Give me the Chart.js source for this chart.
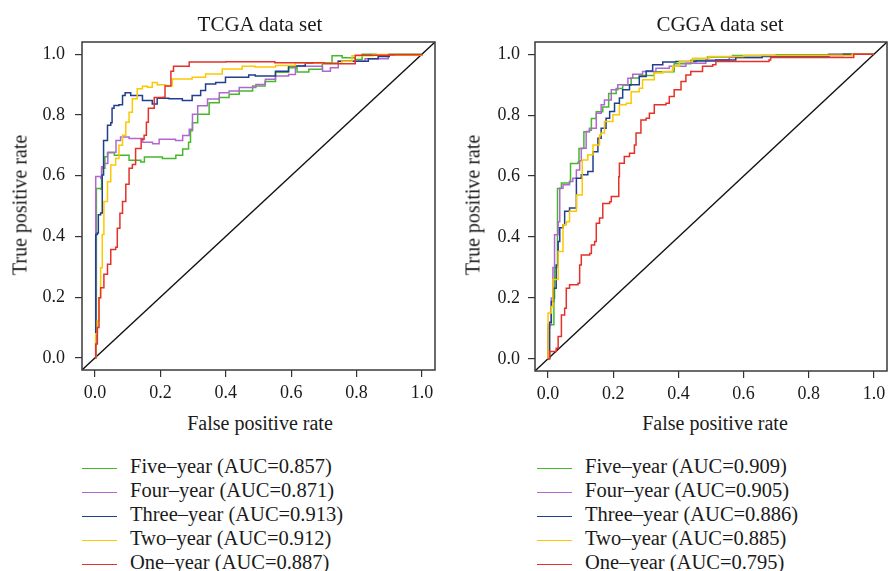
<!DOCTYPE html>
<html>
<head>
<meta charset="utf-8">
<script src="https://cdn.jsdelivr.net/npm/chart.js@4.4.0/dist/chart.umd.min.js"></script>
<style>
  body { margin: 0; background: #fff; }
  #page { position: relative; width: 888px; height: 571px; overflow: hidden; font-family: "Liberation Serif", serif; color: #1a1a1a; }
  .panel { position: absolute; top: 0; }
  .txt { position: absolute; white-space: nowrap; transform: translate(-50%, -50%); font-size: 20px; }
  .title { font-size: 21px; }
  .ylab { transform: translate(-50%, -50%) rotate(-90deg); }
  .legend { position: absolute; top: 0; }
  .row { position: absolute; left: 0; white-space: nowrap; font-size: 20.5px; line-height: 24px; }
  .row i { display: inline-block; width: 35px; height: 0; border-top: 1.6px solid; vertical-align: middle; margin-right: 13px; }
</style>
</head>
<body>
<div id="page">
  <div class="panel" style="left:0"><canvas id="tcga" width="444" height="400"></canvas></div>
  <div class="panel" style="left:444px"><canvas id="cgga" width="444" height="400"></canvas></div>

  <div class="txt title" style="left:260px; top:24px">TCGA data set</div>
  <div class="txt title" style="left:720px; top:24px">CGGA data set</div>
  <div class="txt" style="left:260px; top:423px">False positive rate</div>
  <div class="txt" style="left:715px; top:423px">False positive rate</div>
  <div class="txt ylab" style="left:20px; top:205px">True positive rate</div>
  <div class="txt ylab" style="left:473px; top:205px">True positive rate</div>

  <div class="legend" id="legTcga" style="left:82px"></div>
  <div class="legend" id="legCgga" style="left:537px"></div>
</div>

<script>
// axis values
const tickValues = [0, 0.2, 0.4, 0.6, 0.8, 1.0];
const axisRange = [-0.04, 1.04];

const seriesNames = ['Five–year', 'Four–year', 'Three–year', 'Two–year', 'One–year'];
const seriesColors = ['#46b82b', '#b068d0', '#223f8e', '#fcc800', '#e4322a'];
const tcgaAuc = ['0.857', '0.871', '0.913', '0.912', '0.887'];
const cggaAuc = ['0.909', '0.905', '0.886', '0.885', '0.795'];

// TCGA curves [fpr, tpr]
const tcgaFive = [[0,0],[0.002,0.068],[0.004,0.558],[0.017,0.556],[0.02,0.624],[0.03,0.662],[0.038,0.675],[0.059,0.667],
  [0.104,0.651],[0.14,0.645],[0.151,0.661],[0.206,0.656],[0.232,0.656],[0.247,0.667],[0.268,0.688],[0.286,0.71],
  [0.292,0.748],[0.298,0.774],[0.314,0.802],[0.349,0.84],[0.38,0.857],[0.41,0.868],[0.441,0.879],[0.482,0.895],
  [0.52,0.91],[0.552,0.94],[0.592,0.955],[0.618,0.941],[0.654,0.95],[0.695,0.972],[0.725,0.995],[0.756,0.988],
  [0.796,0.982],[0.817,1.0],[0.86,0.998],[0.9,1.0],[1,1]];
const tcgaFour = [[0,0],[0.002,0.079],[0.002,0.597],[0.017,0.591],[0.02,0.629],[0.027,0.64],[0.039,0.677],[0.064,0.716],
  [0.078,0.727],[0.104,0.722],[0.146,0.71],[0.176,0.705],[0.196,0.72],[0.246,0.716],[0.268,0.732],[0.288,0.753],
  [0.298,0.802],[0.314,0.83],[0.344,0.852],[0.38,0.873],[0.41,0.879],[0.441,0.89],[0.492,0.9],[0.521,0.917],
  [0.552,0.928],[0.592,0.933],[0.613,0.961],[0.643,0.96],[0.696,0.944],[0.72,0.955],[0.744,0.977],[0.826,0.985],
  [0.897,0.999],[1,1]];
const tcgaThree = [[0,0],[0.002,0.166],[0.002,0.406],[0.007,0.411],[0.01,0.471],[0.017,0.477],[0.022,0.602],
  [0.026,0.716],[0.035,0.716],[0.038,0.766],[0.048,0.774],[0.052,0.822],[0.058,0.831],[0.073,0.833],[0.084,0.864],
  [0.092,0.873],[0.109,0.864],[0.145,0.847],[0.175,0.836],[0.19,0.855],[0.226,0.853],[0.267,0.847],[0.297,0.864],
  [0.323,0.88],[0.338,0.902],[0.369,0.907],[0.399,0.924],[0.43,0.924],[0.47,0.931],[0.49,0.928],[0.552,0.944],
  [0.592,0.961],[0.643,0.97],[0.744,0.977],[0.836,0.985],[0.866,0.992],[0.9,0.998],[1,1]];
const tcgaTwo = [[0,0],[0.002,0.079],[0.007,0.122],[0.012,0.198],[0.017,0.297],[0.022,0.406],[0.027,0.515],
  [0.038,0.58],[0.048,0.635],[0.063,0.656],[0.073,0.7],[0.084,0.733],[0.094,0.776],[0.104,0.809],[0.114,0.853],
  [0.129,0.886],[0.145,0.894],[0.16,0.891],[0.175,0.907],[0.19,0.899],[0.216,0.896],[0.236,0.918],[0.267,0.918],
  [0.297,0.924],[0.338,0.935],[0.389,0.951],[0.45,0.96],[0.49,0.958],[0.552,0.963],[0.613,0.972],[0.67,0.97],
  [0.755,0.977],[0.786,0.995],[0.85,0.999],[0.92,0.996],[1,1]];
const tcgaOne = [[0,0],[0.002,0.046],[0.007,0.1],[0.012,0.198],[0.017,0.231],[0.027,0.275],[0.038,0.308],
  [0.048,0.357],[0.063,0.364],[0.068,0.427],[0.076,0.476],[0.084,0.515],[0.094,0.572],[0.104,0.624],[0.114,0.637],
  [0.124,0.689],[0.141,0.72],[0.15,0.733],[0.157,0.776],[0.163,0.822],[0.181,0.857],[0.208,0.858],[0.214,0.895],
  [0.232,0.944],[0.24,0.96],[0.288,0.974],[0.4,0.975],[0.55,0.972],[0.7,0.968],[0.796,0.966],[0.796,0.996],
  [0.9,0.998],[1,1]];

// CGGA curves [fpr, tpr]
const cggaFive = [[0,0],[0,0.112],[0.008,0.112],[0.018,0.199],[0.02,0.3],[0.029,0.482],[0.029,0.559],[0.041,0.577],
  [0.066,0.582],[0.069,0.641],[0.092,0.645],[0.095,0.69],[0.11,0.745],[0.127,0.75],[0.133,0.789],[0.148,0.811],
  [0.168,0.827],[0.186,0.871],[0.209,0.887],[0.229,0.898],[0.255,0.922],[0.28,0.93],[0.326,0.942],[0.387,0.969],
  [0.438,0.98],[0.489,0.991],[0.566,0.996],[0.7,0.998],[0.86,1],[1,1]];
const cggaFour = [[0,0],[0,0.1],[0.005,0.112],[0.01,0.2],[0.015,0.3],[0.02,0.407],[0.031,0.45],[0.036,0.56],
  [0.046,0.571],[0.066,0.582],[0.076,0.593],[0.087,0.62],[0.097,0.65],[0.102,0.691],[0.117,0.746],[0.127,0.757],
  [0.148,0.806],[0.163,0.834],[0.173,0.85],[0.194,0.883],[0.214,0.9],[0.245,0.921],[0.26,0.934],[0.29,0.943],
  [0.331,0.954],[0.372,0.96],[0.423,0.97],[0.484,0.981],[0.556,0.989],[0.657,0.996],[0.862,1],[1,1]];
const cggaThree = [[0,0],[0.005,0.12],[0.01,0.15],[0.01,0.188],[0.017,0.232],[0.025,0.308],[0.031,0.385],
  [0.036,0.43],[0.046,0.44],[0.051,0.484],[0.066,0.495],[0.082,0.495],[0.087,0.593],[0.102,0.604],[0.122,0.615],
  [0.138,0.68],[0.153,0.724],[0.163,0.757],[0.178,0.79],[0.189,0.812],[0.204,0.839],[0.219,0.856],[0.229,0.883],
  [0.25,0.9],[0.28,0.927],[0.301,0.945],[0.321,0.965],[0.352,0.974],[0.392,0.976],[0.454,0.978],[0.515,0.981],
  [0.576,0.989],[0.657,0.992],[0.862,0.996],[0.906,1],[1,1]];
const cggaTwo = [[0,0],[0,0.15],[0.01,0.172],[0.015,0.26],[0.025,0.26],[0.031,0.352],[0.041,0.352],[0.046,0.44],
  [0.056,0.45],[0.066,0.484],[0.087,0.538],[0.1,0.538],[0.105,0.653],[0.122,0.67],[0.138,0.702],[0.158,0.735],
  [0.163,0.741],[0.173,0.779],[0.199,0.801],[0.219,0.834],[0.24,0.839],[0.255,0.877],[0.28,0.888],[0.29,0.916],
  [0.326,0.938],[0.352,0.943],[0.382,0.96],[0.403,0.976],[0.443,0.987],[0.494,0.992],[0.6,0.996],[0.8,0.996],
  [0.933,1],[1,1]];
const cggaOne = [[0,0],[0.005,0.024],[0.02,0.024],[0.025,0.035],[0.031,0.073],[0.041,0.073],[0.041,0.144],
  [0.051,0.166],[0.056,0.232],[0.066,0.243],[0.092,0.248],[0.097,0.308],[0.102,0.341],[0.128,0.346],[0.133,0.374],
  [0.143,0.385],[0.148,0.445],[0.158,0.462],[0.168,0.51],[0.189,0.516],[0.194,0.533],[0.214,0.533],[0.217,0.598],
  [0.219,0.642],[0.234,0.664],[0.25,0.675],[0.265,0.702],[0.27,0.741],[0.285,0.784],[0.301,0.79],[0.311,0.806],
  [0.326,0.834],[0.362,0.839],[0.372,0.861],[0.387,0.883],[0.408,0.91],[0.423,0.932],[0.438,0.943],[0.474,0.96],
  [0.505,0.965],[0.515,0.976],[0.678,0.981],[0.683,0.989],[0.933,0.989],[0.938,1],[1,1]];

const boxPlugin = {
  id: 'box',
  afterDraw(chart) {
    const { ctx, chartArea: a } = chart;
    ctx.save();
    ctx.strokeStyle = '#3a3a3a';
    ctx.lineWidth = 1.5;
    ctx.strokeRect(a.left, a.top, a.right - a.left, a.bottom - a.top);
    ctx.restore();
  }
};

const tickFont = { family: 'Liberation Serif', size: 18 };

function makeChart(id, series, cfg) {
  const datasets = series.map((s, i) => ({
    data: s.map(([x, y]) => ({ x, y })),
    borderColor: seriesColors[i],
    borderWidth: 1.5,
    pointRadius: 0,
    showLine: true,
    stepped: 'before',
    order: series.length - 1 - i,
  }));
  // chance line y = x
  datasets.push({
    data: axisRange.map(v => ({ x: v, y: v })),
    borderColor: '#111',
    borderWidth: 1.3,
    pointRadius: 0,
    showLine: true,
    order: 10,
  });

  new Chart(document.getElementById(id), {
    type: 'scatter',
    data: { datasets },
    plugins: [boxPlugin],
    options: {
      responsive: false,
      animation: false,
      devicePixelRatio: 1,
      layout: { padding: { top: 42, right: cfg.padRight, left: 0, bottom: 0 } },
      plugins: { legend: { display: false }, tooltip: { enabled: false } },
      scales: {
        x: {
          type: 'linear', min: axisRange[0], max: axisRange[1],
          afterBuildTicks: s => { s.ticks = tickValues.map(v => ({ value: v })); },
          afterFit: s => { s.height = cfg.xHeight; s.paddingLeft = 0; s.paddingRight = 0; },
          ticks: { callback: v => v.toFixed(1), font: tickFont, color: '#1a1a1a', padding: 5, maxRotation: 0, autoSkip: false },
          grid: { drawOnChartArea: false, tickLength: 7, color: '#333', lineWidth: 1.2 },
          border: { display: false },
        },
        y: {
          type: 'linear', min: axisRange[0], max: axisRange[1],
          afterBuildTicks: s => { s.ticks = tickValues.map(v => ({ value: v })); },
          afterFit: s => { s.width = cfg.yWidth; s.paddingTop = 0; s.paddingBottom = 0; },
          ticks: { callback: v => v.toFixed(1), font: tickFont, color: '#1a1a1a', padding: cfg.yPad, autoSkip: false },
          grid: { drawOnChartArea: false, tickLength: 7, color: '#333', lineWidth: 1.2 },
          border: { display: false },
        },
      },
    },
  });
}

function makeLegend(id, auc) {
  const el = document.getElementById(id);
  seriesNames.forEach((name, i) => {
    const row = document.createElement('div');
    row.className = 'row';
    row.style.top = (454 + i * 24) + 'px';
    row.innerHTML = '<i style="border-color:' + seriesColors[i] + '"></i>' + name + ' (AUC=' + auc[i] + ')';
    el.appendChild(row);
  });
}

makeChart('tcga', [tcgaFive, tcgaFour, tcgaThree, tcgaTwo, tcgaOne],
  { yWidth: 82, xHeight: 30, padRight: 9, yPad: 10 });
makeChart('cgga', [cggaFive, cggaFour, cggaThree, cggaTwo, cggaOne],
  { yWidth: 91, xHeight: 29, padRight: 1, yPad: 8 });
makeLegend('legTcga', tcgaAuc);
makeLegend('legCgga', cggaAuc);
</script>
</body>
</html>
